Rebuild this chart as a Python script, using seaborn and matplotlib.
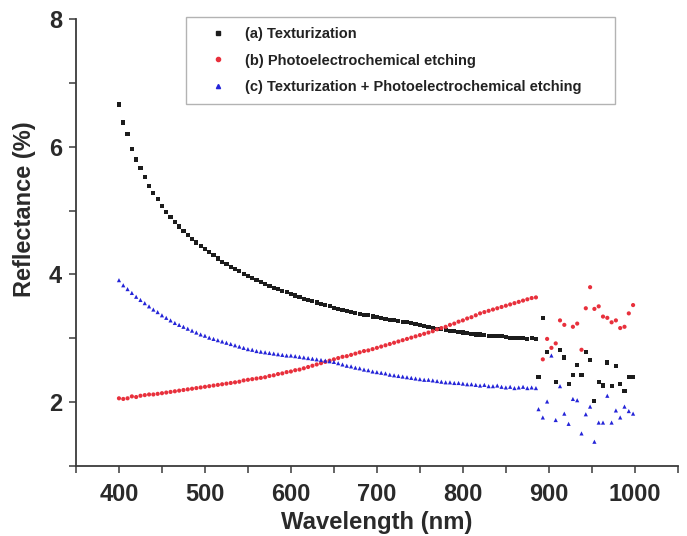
import numpy as np
import pandas as pd
import matplotlib
matplotlib.use("Agg")
import matplotlib.pyplot as plt
from matplotlib.ticker import MultipleLocator
from matplotlib.lines import Line2D
import seaborn as sns

# ---------------- data ----------------
wl_curve = list(range(400, 890, 5))  # 400 ... 885 nm

refl_a = [6.66, 6.38, 6.20, 5.97, 5.80, 5.66, 5.52, 5.39, 5.28, 5.18,
          5.07, 4.98, 4.90, 4.82, 4.75, 4.68, 4.62, 4.56, 4.50, 4.45,
          4.40, 4.35, 4.30, 4.25, 4.20, 4.16, 4.12, 4.08, 4.05, 4.01,
          3.98, 3.94, 3.91, 3.88, 3.85, 3.82, 3.79, 3.77, 3.74, 3.72,
          3.69, 3.67, 3.65, 3.62, 3.60, 3.58, 3.56, 3.54, 3.52, 3.50,
          3.48, 3.46, 3.44, 3.43, 3.41, 3.40, 3.38, 3.37, 3.36, 3.34,
          3.33, 3.32, 3.30, 3.29, 3.28, 3.27, 3.26, 3.25, 3.24, 3.22,
          3.21, 3.19, 3.18, 3.16, 3.15, 3.14, 3.13, 3.12, 3.11, 3.10,
          3.09, 3.08, 3.07, 3.06, 3.06, 3.05, 3.04, 3.04, 3.03, 3.03,
          3.02, 3.01, 3.01, 3.00, 3.00, 2.99, 3.00, 2.99]

refl_b = [2.06, 2.05, 2.06, 2.09, 2.08, 2.10, 2.11, 2.12, 2.12, 2.13,
          2.14, 2.15, 2.16, 2.17, 2.18, 2.19, 2.20, 2.21, 2.22, 2.23,
          2.24, 2.25, 2.26, 2.27, 2.28, 2.29, 2.30, 2.31, 2.32, 2.34,
          2.35, 2.36, 2.37, 2.38, 2.39, 2.41, 2.42, 2.44, 2.45, 2.47,
          2.48, 2.50, 2.51, 2.53, 2.55, 2.57, 2.59, 2.61, 2.63, 2.65,
          2.67, 2.69, 2.71, 2.72, 2.74, 2.76, 2.78, 2.80, 2.81, 2.83,
          2.85, 2.87, 2.89, 2.91, 2.93, 2.95, 2.97, 2.99, 3.01, 3.03,
          3.05, 3.07, 3.09, 3.11, 3.14, 3.16, 3.18, 3.21, 3.23, 3.26,
          3.28, 3.31, 3.33, 3.36, 3.39, 3.41, 3.43, 3.45, 3.47, 3.49,
          3.51, 3.53, 3.55, 3.57, 3.59, 3.61, 3.63, 3.64]

refl_c = [3.91, 3.83, 3.77, 3.71, 3.65, 3.60, 3.55, 3.50, 3.45, 3.41,
          3.36, 3.32, 3.28, 3.24, 3.21, 3.18, 3.15, 3.12, 3.09, 3.06,
          3.04, 3.01, 2.99, 2.97, 2.95, 2.93, 2.91, 2.89, 2.87, 2.85,
          2.83, 2.82, 2.80, 2.79, 2.78, 2.77, 2.76, 2.75, 2.74, 2.73,
          2.73, 2.72, 2.71, 2.70, 2.69, 2.68, 2.67, 2.66, 2.65, 2.64,
          2.63, 2.61, 2.59, 2.57, 2.56, 2.54, 2.53, 2.51, 2.50, 2.48,
          2.47, 2.46, 2.45, 2.43, 2.42, 2.41, 2.40, 2.39, 2.38, 2.37,
          2.36, 2.35, 2.35, 2.34, 2.33, 2.32, 2.31, 2.31, 2.30, 2.30,
          2.29, 2.28, 2.28, 2.27, 2.26, 2.27, 2.25, 2.25, 2.26, 2.24,
          2.23, 2.24, 2.22, 2.23, 2.24, 2.22, 2.23, 2.22]

# noisy tail (> 885 nm)
wl_tail_a = [888, 893, 898, 908, 913, 918, 923, 928, 933, 938, 943, 948,
             953, 958, 963, 968, 973, 978, 983, 988, 993, 998]
refl_tail_a = [2.40, 3.32, 2.78, 2.31, 2.81, 2.70, 2.28, 2.42, 2.58, 2.42,
               2.79, 2.66, 2.02, 2.31, 2.26, 2.62, 2.25, 2.57, 2.29, 2.18,
               2.39, 2.39]
wl_tail_b = [893, 898, 903, 908, 913, 918, 928, 933, 938, 943, 948, 953,
             958, 963, 968, 973, 978, 983, 988, 993, 998]
refl_tail_b = [2.67, 2.99, 2.85, 2.92, 3.28, 3.21, 3.18, 3.23, 2.82, 3.47,
               3.80, 3.46, 3.50, 3.34, 3.32, 3.25, 3.28, 3.16, 3.18, 3.39,
               3.52]
wl_tail_c = [888, 893, 898, 903, 908, 913, 918, 923, 928, 933, 938, 943,
             948, 953, 958, 963, 968, 973, 978, 983, 988, 993, 998]
refl_tail_c = [1.89, 1.76, 2.01, 2.73, 1.72, 2.25, 1.82, 1.66, 2.05, 2.03,
               1.51, 1.81, 1.93, 1.38, 1.68, 1.68, 2.10, 1.68, 1.87, 1.76,
               1.93, 1.86, 1.82]

labels = ["(a) Texturization",
          "(b) Photoelectrochemical etching",
          "(c) Texturization + Photoelectrochemical etching"]

x_ticks = [400, 500, 600, 700, 800, 900, 1000]
y_ticks = [2, 4, 6, 8]

# ---------------- build long table ----------------
frames = []
for lab, wl, r, wlt, rt in [
        (labels[0], wl_curve, refl_a, wl_tail_a, refl_tail_a),
        (labels[1], wl_curve, refl_b, wl_tail_b, refl_tail_b),
        (labels[2], wl_curve, refl_c, wl_tail_c, refl_tail_c)]:
    frames.append(pd.DataFrame({"Wavelength": list(wl) + list(wlt),
                                "Reflectance": list(r) + list(rt),
                                "Sample": lab}))
df = pd.concat(frames, ignore_index=True)

# ---------------- style ----------------
sns.set_style("ticks")
plt.rcParams["font.family"] = ["Liberation Sans", "DejaVu Sans"]

colors = {labels[0]: "#1c1c1c", labels[1]: "#e8303c", labels[2]: "#2424d8"}
markers = {labels[0]: "s", labels[1]: "o", labels[2]: "^"}

fig = plt.figure(figsize=(6.87, 5.36), dpi=100)
ax = fig.add_axes([0.1106, 0.1306, 0.876, 0.834])

sns.scatterplot(data=df, x="Wavelength", y="Reflectance", hue="Sample",
                style="Sample", palette=colors, markers=markers, s=9,
                linewidth=0, ax=ax, legend=False)

ax.set_xlim(350, 1050)
ax.set_ylim(1, 8)
ax.set_xticks(x_ticks)
ax.set_yticks(y_ticks)
ax.xaxis.set_minor_locator(MultipleLocator(50))
ax.yaxis.set_minor_locator(MultipleLocator(1))

for s in ["top", "right"]:
    ax.spines[s].set_visible(False)
for s in ["left", "bottom"]:
    ax.spines[s].set_color("#3a3a3a")
    ax.spines[s].set_linewidth(1.3)

ax.tick_params(axis="both", which="both", direction="out", color="#3a3a3a",
               width=1.1, length=5)
ax.tick_params(axis="x", which="major", pad=7)
ax.tick_params(axis="y", which="major", pad=5)
ax.tick_params(axis="both", which="major", labelsize=17, labelcolor="#2a2a2a")
for lab in ax.get_xticklabels() + ax.get_yticklabels():
    lab.set_fontweight("bold")

ax.set_xlabel("Wavelength (nm)", fontsize=17.2, fontweight="bold",
              color="#2a2a2a", labelpad=3.5)
ax.set_ylabel("Reflectance (%)", fontsize=17, fontweight="bold",
              color="#2a2a2a")
ax.yaxis.set_label_coords(-0.066, 0.575)

handles = [Line2D([], [], linestyle="none", marker=markers[l], color=colors[l],
                  markersize=3) for l in labels]
leg = ax.legend(handles, labels, loc="upper left",
                bbox_to_anchor=(0.1827, 0.0, 0.7126, 1.0045), mode="expand",
                frameon=True, fancybox=False,
                prop={"weight": "bold", "size": 10.5}, handletextpad=0.35,
                borderpad=0.68, labelspacing=0.87, handlelength=3.0,
                borderaxespad=0)
leg.get_frame().set_edgecolor("#a0a0a0")
leg.get_frame().set_linewidth(1.0)
for t in leg.get_texts():
    t.set_color("#222222")

fig.savefig("out.png", dpi=100)
